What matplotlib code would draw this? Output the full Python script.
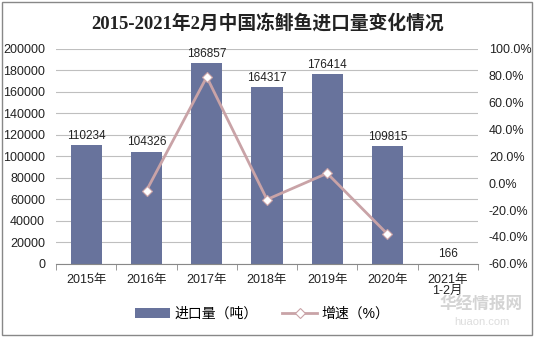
import matplotlib.pyplot as plt
import numpy as np

plt.rcParams['font.family'] = ['Liberation Sans', 'Noto Sans CJK SC']

# import volume (tonnes) and year-on-year growth (%)
years = ['2015年', '2016年', '2017年', '2018年', '2019年', '2020年', '2021年\n1-2月']
volume = [110234, 104326, 186857, 164317, 176414, 109815, 166]
growth = [None, -5.4, 79.1, -12.1, 7.4, -37.8, None]

BAR_C = '#68739C'
LINE_C = '#C9A3A7'
GRID_C = '#BFBFBF'

fig = plt.figure(figsize=(5.35, 3.37), dpi=100)
ax = fig.add_axes([0.105, 0.217, 0.788, 0.638])
ax2 = ax.twinx()

x = np.arange(len(years))
ax.bar(x, volume, width=0.52, color=BAR_C, zorder=2, label='进口量（吨）')
for xi, v in zip(x, volume):
    ax.text(xi, v + 3000, str(v), ha='center', va='bottom', fontsize=8.5, color='#222222')

gx = [xi for xi, g in zip(x, growth) if g is not None]
gy = [g for g in growth if g is not None]
ax2.plot(gx, gy, color=LINE_C, lw=2, marker='D', ms=5, mfc='white',
         mec=LINE_C, mew=0.8, zorder=3, label='增速（%）')

ax.set_xlim(-0.5, len(years) - 0.5)
ax.set_ylim(0, 200000)
ax.set_yticks(np.arange(0, 200001, 20000))
ax2.set_ylim(-60, 100)
ax2.set_yticks(np.arange(-60, 101, 20))
ax2.set_yticklabels([f'{t:.1f}%' for t in np.arange(-60, 101, 20)])

ax.yaxis.grid(True, color=GRID_C, lw=0.8, zorder=0)
ax.set_axisbelow(True)
for a in (ax, ax2):
    for s in a.spines.values():
        s.set_visible(False)
    a.tick_params(axis='y', length=0, labelsize=9, colors='#222222', pad=8)
ax.spines['bottom'].set_visible(True)
ax.spines['bottom'].set_color('#888888')

ax.set_xticks(x)
ax.set_xticklabels(years, fontsize=9, color='#222222', linespacing=0.95)
ax.tick_params(axis='x', length=0, pad=7)
ax.set_xticks(np.arange(-0.5, len(years), 1), minor=True)
ax.tick_params(axis='x', which='minor', length=4, color='#888888')

fig.suptitle('2015-2021年2月中国冻鲱鱼进口量变化情况', y=0.96,
             fontsize=13.5, fontweight='bold', color='#222222',
             family=['Liberation Serif', 'Noto Sans CJK SC'])

h1, l1 = ax.get_legend_handles_labels()
h2, l2 = ax2.get_legend_handles_labels()
fig.legend(h1 + h2, l1 + l2, loc='center', bbox_to_anchor=(0.49, 0.068),
           ncol=2, frameon=False, fontsize=10, handlelength=2.5,
           columnspacing=1.8, handletextpad=0.3)

# watermark
fig.text(0.9, 0.08, '华经情报网', fontsize=12, color='#D4D4D4',
         ha='center', fontweight='bold', zorder=0)
fig.text(0.9, 0.035, 'huaon.com', fontsize=8, color='#DDDDDD',
         ha='center', zorder=0)

# outer frame
fig.patches.append(plt.Rectangle((0.004, 0.006), 0.99, 0.988, transform=fig.transFigure,
                                 fill=False, ec='#888888', lw=1))

fig.savefig('out.png', dpi=100)
